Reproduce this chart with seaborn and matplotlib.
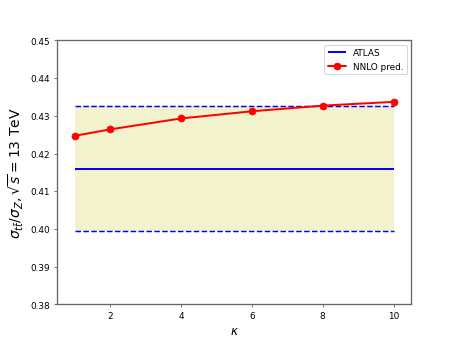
import matplotlib
matplotlib.use("Agg")
import matplotlib.pyplot as plt
import seaborn as sns
import pandas as pd

kappa = [1, 2, 4, 6, 8, 10]
nnlo = [0.4247, 0.4264, 0.4293, 0.4312, 0.4327, 0.4337]
atlas_central = 0.416
atlas_low = 0.3995
atlas_high = 0.4325
yticks = [0.38, 0.39, 0.40, 0.41, 0.42, 0.43, 0.44, 0.45]
xticks = [2, 4, 6, 8, 10]

sns.set_style("ticks")
plt.rcParams['font.family'] = ['DejaVu Sans']
plt.rcParams['text.color'] = 'black'
plt.rcParams['axes.labelcolor'] = 'black'
plt.rcParams['xtick.color'] = 'black'
plt.rcParams['ytick.color'] = 'black'

df = pd.DataFrame({"kappa": kappa, "nnlo": nnlo})
fig, ax = plt.subplots(figsize=(6.4, 4.8), dpi=71.4)

ax.fill_between([kappa[0], kappa[-1]], atlas_low, atlas_high, color='y', alpha=0.2, lw=0)
ax.hlines(atlas_high, kappa[0], kappa[-1], colors='b', linestyles='--', lw=1.5)
ax.hlines(atlas_low, kappa[0], kappa[-1], colors='b', linestyles='--', lw=1.5)
ax.hlines(atlas_central, kappa[0], kappa[-1], colors='b', lw=2, label='ATLAS')
sns.lineplot(data=df, x="kappa", y="nnlo", ax=ax, color='red', marker='o',
             markersize=7, markeredgecolor='red', lw=2, label='NNLO pred.')

ax.set_xlim(0.5, 10.5)
ax.set_ylim(0.38, 0.45)
ax.set_xticks(xticks)
ax.set_yticks(yticks)
ax.set_yticklabels([f"{v:.2f}" for v in yticks])
ax.tick_params(labelsize=9, color='#555555', length=3.5)
for s in ax.spines.values():
    s.set_color('#666666')
    s.set_linewidth(1.3)
ax.set_xlabel(r'$\kappa$', fontsize=12)
ax.set_ylabel(r'$\sigma_{t\bar{t}}/\sigma_Z, \sqrt{s} = 13$ TeV', fontsize=14)
ax.legend(loc='upper right', fontsize=9)
fig.subplots_adjust(left=0.125, right=0.9, bottom=0.11, top=0.88)
fig.savefig("out.png", dpi=71.4)
